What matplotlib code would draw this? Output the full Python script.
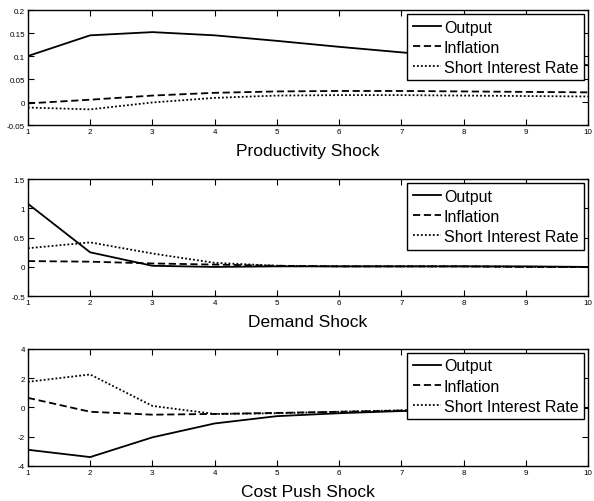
import matplotlib
matplotlib.use('Agg')
import matplotlib.pyplot as plt
from matplotlib.ticker import FormatStrFormatter

plt.rcParams['font.family'] = ['Liberation Sans', 'DejaVu Sans']

periods = list(range(1, 11))

# productivity shock
prod_output    = [0.100, 0.145, 0.152, 0.145, 0.133, 0.120, 0.108, 0.097, 0.088, 0.080]
prod_inflation = [-0.003, 0.005, 0.014, 0.020, 0.023, 0.024, 0.024, 0.023, 0.022, 0.021]
prod_rate      = [-0.012, -0.016, -0.001, 0.009, 0.014, 0.015, 0.015, 0.014, 0.013, 0.012]

# demand shock
dem_output    = [1.08, 0.25, 0.02, 0.00, 0.01, 0.01, 0.01, 0.01, 0.01, 0.00]
dem_inflation = [0.10, 0.09, 0.06, 0.04, 0.02, 0.01, 0.01, 0.01, 0.00, 0.00]
dem_rate      = [0.32, 0.42, 0.23, 0.07, 0.02, 0.01, 0.01, 0.01, 0.00, 0.00]

# cost push shock
cp_output    = [-2.9, -3.4, -2.05, -1.1, -0.6, -0.4, -0.25, -0.15, -0.1, -0.05]
cp_inflation = [0.65, -0.3, -0.5, -0.45, -0.38, -0.3, -0.22, -0.15, -0.1, -0.05]
cp_rate      = [1.75, 2.25, 0.1, -0.45, -0.4, -0.3, -0.2, -0.15, -0.1, -0.05]

panels = [
    ('Productivity Shock', prod_output, prod_inflation, prod_rate, (-0.05, 0.2), [-0.05, 0, 0.05, 0.1, 0.15, 0.2]),
    ('Demand Shock', dem_output, dem_inflation, dem_rate, (-0.5, 1.5), [-0.5, 0, 0.5, 1, 1.5]),
    ('Cost Push Shock', cp_output, cp_inflation, cp_rate, (-4, 4), [-4, -2, 0, 2, 4]),
]

fig = plt.figure(figsize=(5.94, 5.02), dpi=100)
boxes = [(0.047, 0.749, 0.943, 0.229),
         (0.047, 0.408, 0.943, 0.233),
         (0.047, 0.070, 0.943, 0.233)]

for (title, out, inf, rate, ylim, yticks), box in zip(panels, boxes):
    ax = fig.add_axes(box)
    ax.plot(periods, out, color='black', lw=1.3, ls='-', label='Output')
    ax.plot(periods, inf, color='black', lw=1.3, ls=(0, (4, 2)), label='Inflation')
    ax.plot(periods, rate, color='black', lw=1.3, ls=(0, (1, 1.2)), label='Short Interest Rate')
    ax.set_xlim(1, 10)
    ax.set_ylim(*ylim)
    ax.set_xticks(periods)
    ax.set_yticks(yticks)
    ax.yaxis.set_major_formatter(FormatStrFormatter('%g'))
    ax.tick_params(direction='in', top=True, right=True, length=4, width=0.8,
                   labelsize=5.8, pad=2)
    for s in ax.spines.values():
        s.set_linewidth(1.0)
    ax.set_xlabel(title, fontsize=12.5, labelpad=6)
    leg = ax.legend(loc='upper right', fontsize=11.5, frameon=True, fancybox=False,
                    edgecolor='black', framealpha=1, borderaxespad=0.25,
                    handlelength=1.8, handletextpad=0.15, borderpad=0.35,
                    labelspacing=0.32)
    leg.get_frame().set_linewidth(1.0)

fig.savefig('out.png', dpi=100)
